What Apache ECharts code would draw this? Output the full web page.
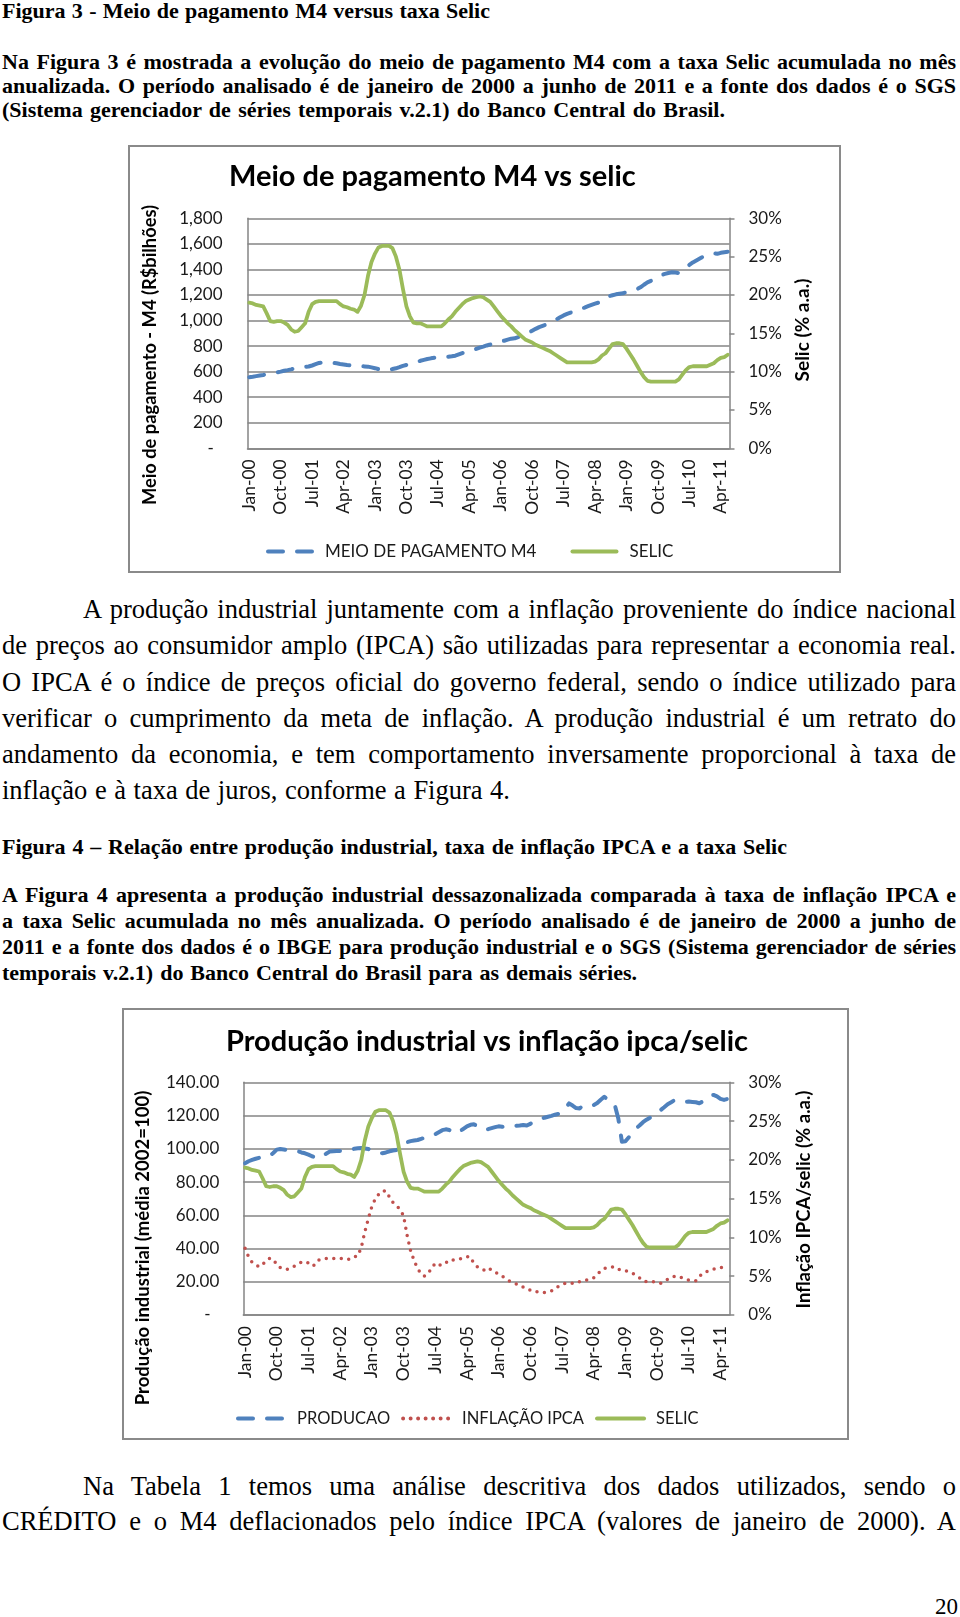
<!DOCTYPE html>
<html>
<head>
<meta charset="utf-8">
<script src="https://cdn.jsdelivr.net/npm/echarts@6/dist/echarts.min.js"></script>
<style>
  html, body { margin: 0; padding: 0; background: #fff; }
  #page { position: relative; width: 960px; height: 1617px; overflow: hidden; background: #fff; }
  .ln { position: absolute; white-space: nowrap; font-family: 'Liberation Serif', 'Times New Roman', serif; color: #000; }
  .b { font-weight: bold; font-size: 22px; line-height: 25px; }
  .r { font-size: 26.5px; line-height: 31px; }
  .chart { position: absolute; }
</style>
</head>
<body>
<div id="page">
  <div class="ln b" data-x0="2" data-x1="490" data-cy="10">Figura 3 - Meio de pagamento M4 versus taxa Selic</div>

  <div class="ln b" data-x0="2" data-x1="956" data-cy="61">Na Figura 3 é mostrada a evolução do meio de pagamento M4 com a taxa Selic acumulada no mês</div>
  <div class="ln b" data-x0="2" data-x1="956" data-cy="85.3">anualizada. O período analisado é de janeiro de 2000 a junho de 2011 e a fonte dos dados é o SGS</div>
  <div class="ln b" data-x0="2" data-x1="725" data-cy="109.3">(Sistema gerenciador de séries temporais v.2.1) do Banco Central do Brasil.</div>

  <div class="ln r" data-x0="83" data-x1="956" data-cy="609">A produção industrial juntamente com a inflação proveniente do índice nacional</div>
  <div class="ln r" data-x0="2" data-x1="956" data-cy="645.5">de preços ao consumidor amplo (IPCA) são utilizadas para representar a economia real.</div>
  <div class="ln r" data-x0="2" data-x1="956" data-cy="682">O IPCA é o índice de preços oficial do governo federal, sendo o índice utilizado para</div>
  <div class="ln r" data-x0="2" data-x1="956" data-cy="718">verificar o cumprimento da meta de inflação. A produção industrial é um retrato do</div>
  <div class="ln r" data-x0="2" data-x1="956" data-cy="754.5">andamento da economia, e tem comportamento inversamente proporcional à taxa de</div>
  <div class="ln r" data-x0="2" data-x1="510" data-cy="790.5">inflação e à taxa de juros, conforme a Figura 4.</div>

  <div class="ln b" data-x0="2" data-x1="787" data-cy="846">Figura 4 – Relação entre produção industrial, taxa de inflação IPCA e a taxa Selic</div>

  <div class="ln b" data-x0="2" data-x1="956" data-cy="894.5">A Figura 4 apresenta a produção industrial dessazonalizada comparada à taxa de inflação IPCA e</div>
  <div class="ln b" data-x0="2" data-x1="956" data-cy="920.5">a taxa Selic acumulada no mês anualizada. O período analisado é de janeiro de 2000 a junho de</div>
  <div class="ln b" data-x0="2" data-x1="956" data-cy="946.5">2011 e a fonte dos dados é o IBGE para produção industrial e o SGS (Sistema gerenciador de séries</div>
  <div class="ln b" data-x0="2" data-x1="637" data-cy="972">temporais v.2.1) do Banco Central do Brasil para as demais séries.</div>

  <div class="ln r" data-x0="83" data-x1="956" data-cy="1486">Na Tabela 1 temos uma análise descritiva dos dados utilizados, sendo o</div>
  <div class="ln r" data-x0="2" data-x1="956" data-cy="1521">CRÉDITO e o M4 deflacionados pelo índice IPCA (valores de janeiro de 2000). A</div>

  <div class="ln r" data-x0="935" data-cy="1606" style="font-size:23px;line-height:27px;">20</div>

  <div id="c1" class="chart" style="left:128px;top:145px;width:713px;height:428px;"></div>
  <div id="c2" class="chart" style="left:122px;top:1008px;width:727px;height:432px;"></div>
</div>

<script>
// ---------------- DATA ----------------
const MONTH_ABBR = ['Jan','Feb','Mar','Apr','May','Jun','Jul','Aug','Sep','Oct','Nov','Dec'];
const FIRST_YEAR = 2000, LAST_YEAR = 2011, LAST_MONTH_INDEX = 5; // Jan-00 .. Jun-11

// Meio de pagamento M4 (R$ bilhões), monthly
const m4Values = [
  556, 560, 565, 570, 574, 580, 585, 590, 595, 600, 607, 612,            // 2000
  618, 625, 630, 635, 638, 640, 648, 658, 668, 672, 672, 670,            // 2001
  668, 665, 660, 656, 652, 650, 647, 645, 643, 641, 639, 633,            // 2002
  627, 620, 613, 612, 615, 620, 626, 635, 645, 652, 658, 665,            // 2003
  675, 685, 692, 699, 704, 708, 710, 710, 712, 716, 720, 725,            // 2004
  735, 745, 752, 757, 768, 778, 788, 796, 805, 812, 820, 827,            // 2005
  835, 842, 850, 858, 861, 870, 882, 895, 905, 920, 935, 948,            // 2006
  958, 968, 983, 997, 1010, 1025, 1040, 1052, 1062, 1072, 1082, 1092,    // 2007
  1101, 1112, 1122, 1132, 1140, 1152, 1170, 1190, 1198, 1205, 1210, 1213,// 2008
  1222, 1232, 1240, 1245, 1260, 1280, 1298, 1310, 1325, 1340, 1355, 1365,// 2009
  1372, 1378, 1375, 1372, 1390, 1412, 1435, 1455, 1470, 1485, 1500, 1510,// 2010
  1518, 1526, 1522, 1530, 1535, 1538                                     // 2011
];

// Selic (% a.a.), monthly
const selicValues = [
  19.0, 18.9, 18.7, 18.6, 18.5, 17.6, 16.6, 16.5, 16.6, 16.6, 16.4, 16.1, // 2000
  15.5, 15.2, 15.3, 15.8, 16.3, 17.8, 18.8, 19.1, 19.2, 19.2, 19.2, 19.2, // 2001
  19.2, 19.2, 18.8, 18.5, 18.4, 18.2, 18.1, 17.8, 18.6, 20.0, 22.5, 24.3, // 2002
  25.4, 26.2, 26.4, 26.4, 26.4, 26.1, 25.0, 23.3, 20.8, 18.5, 17.2, 16.4, // 2003
  16.3, 16.3, 16.1, 15.9, 15.9, 15.9, 15.9, 15.9, 16.3, 16.8, 17.2, 17.8, // 2004
  18.3, 18.8, 19.2, 19.4, 19.6, 19.7, 19.8, 19.7, 19.4, 19.1, 18.5, 17.9, // 2005
  17.3, 16.8, 16.3, 15.9, 15.4, 15.0, 14.6, 14.2, 14.0, 13.8, 13.5, 13.3, // 2006
  13.1, 12.9, 12.7, 12.4, 12.1, 11.8, 11.5, 11.2, 11.2, 11.2, 11.2, 11.2, // 2007
  11.2, 11.2, 11.2, 11.3, 11.6, 12.1, 12.4, 13.0, 13.6, 13.7, 13.7, 13.6, // 2008
  13.0, 12.3, 11.6, 10.8, 10.0, 9.3, 8.8, 8.7, 8.7, 8.7, 8.7, 8.7,        // 2009
  8.7, 8.7, 8.7, 9.0, 9.6, 10.2, 10.6, 10.7, 10.7, 10.7, 10.7, 10.7,      // 2010
  10.9, 11.1, 11.5, 11.8, 11.9, 12.2                                      // 2011
];

// Produção industrial (média 2002 = 100), monthly
const producaoValues = [
  91.3, 92.5, 93.3, 94.0, 94.6, 95.0, 95.3, 95.7, 97.5, 99.5, 99.9, 99.6,        // 2000
  99.2, 98.9, 98.8, 98.5, 97.8, 97.3, 96.5, 95.5, 94.8, 94.3, 95.8, 97.0,        // 2001
  98.3, 98.5, 98.6, 98.7, 98.7, 99.0, 99.5, 100.0, 100.3, 100.5, 100.2, 99.9,    // 2002
  99.0, 98.2, 97.8, 97.3, 97.8, 98.5, 99.0, 99.3, 100.8, 102.5, 104.0, 104.6,    // 2003
  105.0, 105.3, 106.0, 106.6, 107.2, 107.7, 108.8, 110.0, 111.2, 111.7, 111.3, 110.5, // 2004
  109.3, 110.5, 112.0, 113.5, 114.4, 114.7, 113.8, 112.5, 111.5, 111.8, 112.4, 113.0, // 2005
  113.5, 113.2, 113.8, 114.0, 113.8, 113.8, 114.0, 114.3, 114.0, 115.0, 116.3, 117.3, // 2006
  118.0, 118.7, 119.3, 119.8, 120.5, 121.0, 121.9, 124.5, 127.3, 126.0, 124.5, 124.3, // 2007
  126.0, 126.2, 126.0, 126.3, 127.5, 129.5, 131.3, 129.5, 127.4, 126.3, 118.0, 104.3, // 2008
  104.5, 107.0, 110.0, 112.3, 114.0, 116.0, 117.5, 118.7, 120.0, 122.0, 123.3, 125.0, // 2009
  126.8, 128.0, 129.3, 129.0, 128.5, 128.3, 128.4, 128.2, 128.0, 127.4, 128.5, 130.5, // 2010
  132.0, 132.4, 131.5, 130.0, 129.4, 130.0                                           // 2011
];

// Inflação IPCA (% a.a., 12 meses), monthly
const ipcaValues = [
  8.6, 7.5, 6.8, 6.5, 6.2, 6.5, 7.0, 7.3, 7.2, 6.5, 6.1, 5.9,          // 2000
  5.9, 6.1, 6.3, 6.6, 6.8, 6.9, 6.7, 6.3, 6.5, 7.1, 7.2, 7.3,          // 2001
  7.3, 7.3, 7.3, 7.3, 7.3, 7.2, 7.2, 7.5, 7.6, 8.7, 10.7, 12.4,        // 2002
  14.0, 15.0, 15.6, 16.0, 16.0, 15.2, 14.5, 14.1, 13.6, 12.8, 10.3, 8.3, // 2003
  7.0, 6.0, 5.3, 5.0, 5.4, 6.0, 6.7, 6.5, 6.4, 6.7, 7.1, 7.1,          // 2004
  7.1, 7.2, 7.4, 7.5, 7.5, 6.6, 6.2, 5.9, 5.8, 6.1, 5.8, 5.5,          // 2005
  5.3, 5.0, 4.7, 4.4, 4.2, 4.0, 3.9, 3.6, 3.4, 3.2, 3.0, 3.0,          // 2006
  2.9, 2.9, 3.0, 3.1, 3.4, 3.7, 3.9, 4.1, 4.1, 4.1, 4.1, 4.3,          // 2007
  4.4, 4.5, 4.7, 4.8, 5.2, 5.7, 6.0, 6.1, 6.2, 6.2, 5.9, 5.7,          // 2008
  5.7, 5.6, 5.4, 5.1, 4.8, 4.4, 4.3, 4.3, 4.3, 4.2, 4.1, 4.3,          // 2009
  4.6, 4.8, 5.0, 5.0, 4.8, 4.6, 4.5, 4.4, 4.4, 5.0, 5.3, 5.6,          // 2010
  5.7, 5.9, 6.0, 6.1, 6.2, 6.4                                         // 2011
];

// Category labels (Jan-00 .. Jun-11)
const months = [];
for (let y = FIRST_YEAR; y <= LAST_YEAR; y++) {
  for (let m = 0; m < 12; m++) {
    if (y === LAST_YEAR && m > LAST_MONTH_INDEX) break;
    months.push(MONTH_ABBR[m] + '-' + String(y % 100).padStart(2, '0'));
  }
}

// ---------------- TEXT LAYOUT ----------------
document.querySelectorAll('.ln').forEach(function (el) {
  const x0 = +el.dataset.x0, cy = +el.dataset.cy;
  const lh = parseFloat(getComputedStyle(el).lineHeight);
  el.style.left = x0 + 'px';
  el.style.top = (cy - lh / 2) + 'px';
  if (el.dataset.x1) {
    const target = +el.dataset.x1 - x0;
    const w = el.getBoundingClientRect().width;
    const n = (el.textContent.match(/ /g) || []).length;
    if (w < target && n) {
      el.style.wordSpacing = ((target - w) / n) + 'px';
    } else if (w > target) {
      el.style.transformOrigin = '0 50%';
      el.style.transform = 'scaleX(' + (target / w) + ')';
    }
  }
});

// ---------------- CHARTS ----------------
const FONT = 'Lato';
const GRID_COLOR = '#858585';
const LABEL_COLOR = '#1a1a1a';
const BLUE = '#4F81BD', RED = '#C0504D', GREEN = '#9BBB59';

function xAxisCfg() {
  return {
    type: 'category', data: months, boundaryGap: true,
    axisLine: { show: true, lineStyle: { color: GRID_COLOR, width: 1.5 } },
    axisTick: { show: false },
    splitLine: { show: false },
    axisLabel: { interval: 8, rotate: 90, margin: 11, fontFamily: FONT, fontSize: 17.5, color: LABEL_COLOR }
  };
}
function leftAxisCfg(max, interval, fmt, margin) {
  return {
    type: 'value', min: 0, max: max, interval: interval,
    axisLine: { show: true, lineStyle: { color: GRID_COLOR, width: 1.5 } },
    axisTick: { show: false },
    splitLine: { show: true, lineStyle: { color: GRID_COLOR, width: 1.6 } },
    axisLabel: { margin: margin, fontFamily: FONT, fontSize: 17, color: LABEL_COLOR, formatter: fmt }
  };
}
function rightAxisCfg() {
  return {
    type: 'value', position: 'right', min: 0, max: 30, interval: 5,
    axisLine: { show: true, lineStyle: { color: GRID_COLOR, width: 1.5 } },
    axisTick: { show: true, inside: false, length: 5, lineStyle: { color: GRID_COLOR, width: 1.5 } },
    splitLine: { show: false },
    axisLabel: { margin: 19, fontFamily: FONT, fontSize: 17, color: LABEL_COLOR, formatter: function (v) { return v + '%'; } }
  };
}
function lineSeries(name, data, axisIndex, color, dash, width, z) {
  return {
    type: 'line', name: name, data: data, yAxisIndex: axisIndex,
    symbol: 'none', showSymbol: false, smooth: false, z: z,
    lineStyle: { color: color, width: width, type: dash, cap: 'round', join: 'round' },
    itemStyle: { color: color },
    emphasis: { disabled: true }, silent: true
  };
}
function frame(w, h) {
  return { type: 'rect', shape: { x: 1, y: 1, width: w - 2, height: h - 2 },
           style: { fill: 'none', stroke: '#8a8a8a', lineWidth: 2 }, silent: true };
}
function vTitle(text, x, y, size) {
  return { type: 'text', x: x, y: y, rotation: Math.PI / 2, silent: true,
           style: { text: text, fontFamily: FONT, fontSize: size, fontWeight: 'bold', fill: '#000',
                    align: 'center', verticalAlign: 'middle' } };
}
const LEGEND_HIDE_SYMBOL = { opacity: 0, color: 'transparent', borderWidth: 0 };
const LEGEND_LINE = { width: 4, cap: 'round' };

// Chart 1
const chart1 = echarts.init(document.getElementById('c1'), null, { renderer: 'canvas' });
chart1.setOption({
  animation: false,
  textStyle: { fontFamily: FONT },
  title: { text: 'Meio de pagamento M4 vs selic', left: 101, top: 17, padding: 0,
           textStyle: { fontFamily: FONT, fontSize: 29, fontWeight: 'bold', color: '#000' } },
  graphic: { elements: [
    frame(713, 428),
    vTitle('Meio de pagamento - M4 (R$bilhões)', 22, 210, 18.3),
    vTitle('Selic (% a.a.)', 675, 185, 19)
  ] },
  legend: {
    left: 138, top: 398, itemWidth: 44, itemHeight: 14, itemGap: 34, padding: 0,
    itemStyle: LEGEND_HIDE_SYMBOL, lineStyle: LEGEND_LINE,
    textStyle: { fontFamily: FONT, fontSize: 17, color: LABEL_COLOR, padding: [0, 0, 0, 8] },
    data: ['MEIO DE PAGAMENTO M4', 'SELIC']
  },
  grid: { left: 119.5, top: 73.3, width: 482, height: 230, containLabel: false, outerBoundsMode: 'none' },
  xAxis: xAxisCfg(),
  yAxis: [
    leftAxisCfg(1800, 200, function (v) { return v === 0 ? '-  ' : v.toLocaleString('en-US'); }, 25),
    rightAxisCfg()
  ],
  series: [
    lineSeries('MEIO DE PAGAMENTO M4', m4Values, 0, BLUE, [15, 14], 4, 2),
    lineSeries('SELIC', selicValues, 1, GREEN, 'solid', 3.8, 3)
  ]
});

// Chart 2
const chart2 = echarts.init(document.getElementById('c2'), null, { renderer: 'canvas' });
chart2.setOption({
  animation: false,
  textStyle: { fontFamily: FONT },
  title: { text: 'Produção industrial vs inflação ipca/selic', left: 104, top: 19, padding: 0,
           textStyle: { fontFamily: FONT, fontSize: 29, fontWeight: 'bold', color: '#000' } },
  graphic: { elements: [
    frame(727, 432),
    vTitle('Produção industrial (média 2002=100)', 21, 240, 18.5),
    vTitle('Inflação IPCA/selic (% a.a.)', 682, 191.5, 18.5)
  ] },
  legend: {
    left: 114, top: 402, itemWidth: 47, itemHeight: 14, itemGap: 11, padding: 0,
    itemStyle: LEGEND_HIDE_SYMBOL, lineStyle: LEGEND_LINE,
    textStyle: { fontFamily: FONT, fontSize: 16.5, color: LABEL_COLOR, padding: [0, 0, 0, 7] },
    data: ['PRODUCAO', 'INFLAÇÃO IPCA', 'SELIC']
  },
  grid: { left: 121.3, top: 74.3, width: 486, height: 232.7, containLabel: false, outerBoundsMode: 'none' },
  xAxis: xAxisCfg(),
  yAxis: [
    leftAxisCfg(140, 20, function (v) { return v === 0 ? '-  ' : v.toFixed(2); }, 24),
    rightAxisCfg()
  ],
  series: [
    lineSeries('PRODUCAO', producaoValues, 0, BLUE, [15, 14], 4, 2),
    lineSeries('INFLAÇÃO IPCA', ipcaValues, 1, RED, [0, 7.5], 3.5, 3),
    lineSeries('SELIC', selicValues, 1, GREEN, 'solid', 3.8, 4)
  ]
});
</script>
</body>
</html>
